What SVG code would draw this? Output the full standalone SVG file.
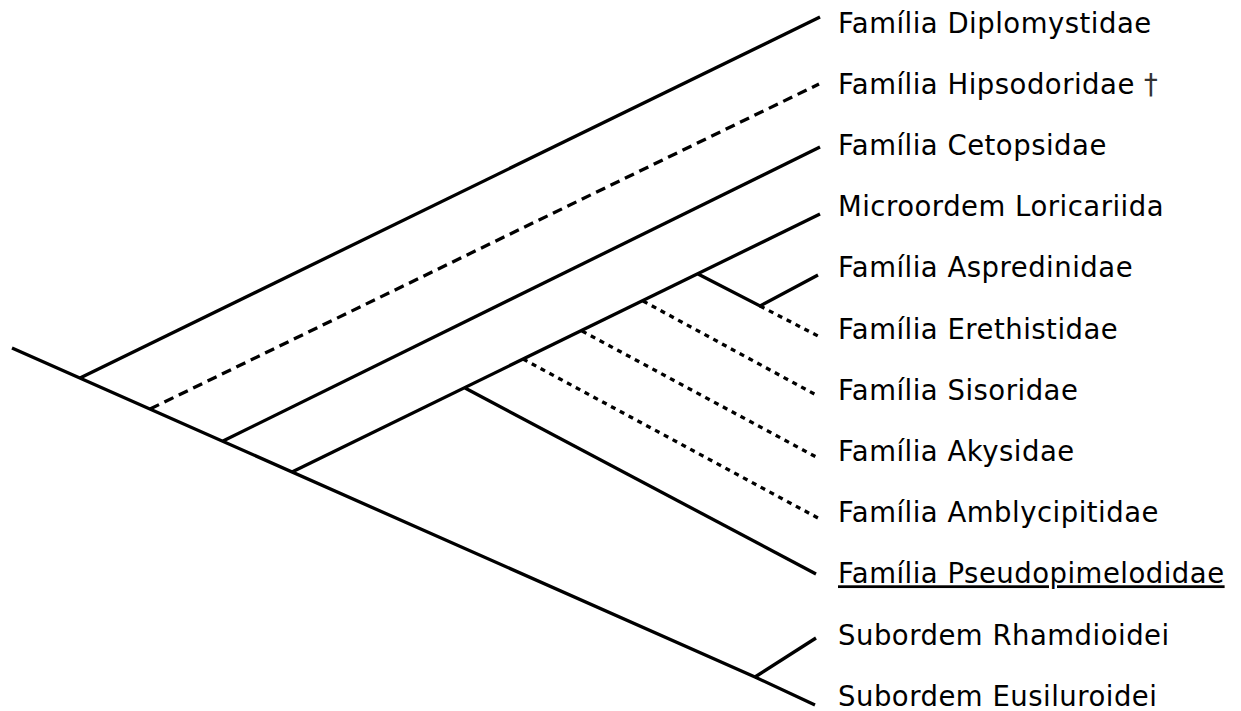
<svg xmlns="http://www.w3.org/2000/svg" width="1241" height="711" viewBox="0 0 1241 711">
<style>
.bg{fill:#ffffff}
.ln{stroke:#000;stroke-width:3.3;fill:none;stroke-linecap:butt}
.dash{stroke-dasharray:10 6}
.dot{stroke-dasharray:5 5}
.lbl{font-family:"DejaVu Sans","Verdana",sans-serif;font-size:27.5px;letter-spacing:0.5px;fill:#000}
.dg{fill:#333}
</style>
<rect class="bg" x="0" y="0" width="1241" height="711"/>
<g id="connectors">
<path class="ln" d="M12,348 L755,677 L815,705"/>
<path class="ln" d="M755,677 L816,638"/>
<path class="ln" d="M80,378 L820,17"/>
<path class="ln dash" d="M150,409 L819,84"/>
<path class="ln" d="M223,441 L820,147"/>
<path class="ln" d="M292,472 L820,214"/>
<path class="ln" d="M465,388 L816,574"/>
<path class="ln dot" d="M523,359 L818,518"/>
<path class="ln dot" d="M582,331 L818,458"/>
<path class="ln dot" d="M643,301 L818,396"/>
<path class="ln" d="M698,274 L760,306 L818,275"/>
<path class="ln dot" d="M760,306 L818,336"/>
</g>
<g id="n-diplomystidae"><text class="lbl" x="838" y="32.5">Família Diplomystidae</text></g>
<g id="n-hipsodoridae"><text class="lbl" x="838" y="93.7">Família Hipsodoridae <tspan class="dg">†</tspan></text></g>
<g id="n-cetopsidae"><text class="lbl" x="838" y="154.9">Família Cetopsidae</text></g>
<g id="n-loricariida"><text class="lbl" x="838" y="216.1">Microordem Loricariida</text></g>
<g id="n-aspredinidae"><text class="lbl" x="838" y="277.3">Família Aspredinidae</text></g>
<g id="n-erethistidae"><text class="lbl" x="838" y="338.5">Família Erethistidae</text></g>
<g id="n-sisoridae"><text class="lbl" x="838" y="399.7">Família Sisoridae</text></g>
<g id="n-akysidae"><text class="lbl" x="838" y="460.9">Família Akysidae</text></g>
<g id="n-amblycipitidae"><text class="lbl" x="838" y="522.1">Família Amblycipitidae</text></g>
<g id="n-pseudopimelodidae"><text class="lbl" x="838" y="583.3" text-decoration="underline">Família Pseudopimelodidae</text></g>
<g id="n-rhamdioidei"><text class="lbl" x="838" y="644.5">Subordem Rhamdioidei</text></g>
<g id="n-eusiluroidei"><text class="lbl" x="838" y="705.7">Subordem Eusiluroidei</text></g>
</svg>
